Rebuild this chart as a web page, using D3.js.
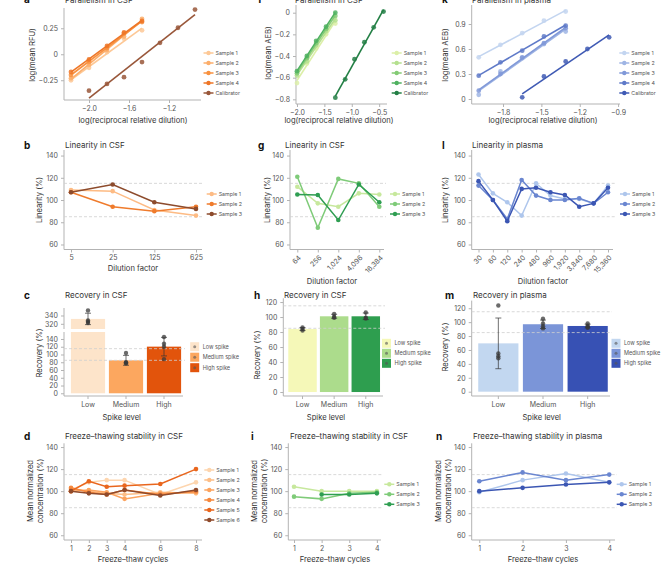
<!DOCTYPE html>
<html>
<head>
<meta charset="utf-8">
<script src="https://cdn.jsdelivr.net/npm/d3@7"></script>
<style>
  body { margin: 0; background: #fff; }
  svg { font-family: Inter, "Open Sans", sans-serif; }
</style>
</head>
<body>
<svg id="fig" width="665" height="578"></svg>
<script>
// ---------- data ----------
// a: parallelism in CSF (RFU)
const aSampleX = [-2.18, -2.0, -1.82, -1.65, -1.47];
const aSamples = [
  [-0.25, -0.13, 0.02, 0.15, 0.23],
  [-0.23, -0.10, 0.04, 0.17, 0.34],
  [-0.20, -0.07, 0.06, 0.20, 0.31],
  [-0.17, -0.05, 0.08, 0.21, 0.32]
];
const aCalX = [-2.0, -1.82, -1.65, -1.47, -1.29, -1.11, -0.94];
const aCal = [-0.35, -0.285, -0.22, -0.075, 0.11, 0.255, 0.43];

// f: parallelism in CSF (AEB)
const fSampleX = [-2.0, -1.82, -1.65, -1.47, -1.3];
const fSamples = [
  [-0.65, -0.47, -0.33, -0.20, -0.10],
  [-0.58, -0.45, -0.30, -0.17, -0.07],
  [-0.56, -0.42, -0.28, -0.15, -0.03],
  [-0.54, -0.40, -0.26, -0.13, 0.0]
];
const fCalX = [-1.3, -1.12, -0.95, -0.77, -0.6, -0.42];
const fCal = [-0.785, -0.615, -0.43, -0.273, -0.135, 0.01];

// k: parallelism in plasma (AEB)
const kSampleX = [-1.99, -1.82, -1.65, -1.48, -1.31];
const kSamples = [
  [0.50, 0.65, 0.79, 0.94, 1.05],
  [0.05, 0.33, 0.49, 0.66, 0.81],
  [0.10, 0.30, 0.50, 0.67, 0.85],
  [0.28, 0.44, 0.58, 0.75, 0.88]
];
const kCalX = [-1.65, -1.48, -1.31, -1.14, -0.97];
const kCal = [0.02, 0.27, 0.45, 0.60, 0.74];

// linearity (%)
const bDilutions = ["5", "25", "125", "625"];
const bLinearity = [[109, 108, 91, 86], [107, 94, 90, 94], [107, 114, 98, 92]];
const gDilutions = ["64", "256", "1,024", "4,096", "16,384"];
const gLinearity = [[112, 97, 94, 106, 105], [121, 75, 119, 115, 94], [105, 104.5, 82, 114, 98]];
const lDilutions = ["30", "60", "120", "240", "480", "960", "1,920", "3,840", "7,680", "15,360"];
const lLinearity = [
  [123, 106, 98, 86, 115, 104, 101, 101, 97, 113],
  [113, 100, 83, 118, 104, 100, 100, 101.5, 97, 107],
  [117, 100, 81, 110, 111, 107, 104.5, 94, 97, 111]
];

// recovery (%), replicates per spike level
const spikeLevels = ["Low", "Medium", "High"];
const spikeNames = ["Low spike", "Medium spike", "High spike"];
const cRecovery = [[352, 322, 325, 328], [104, 79, 77, 80], [145, 128, 120, 88]];
const hRecovery = [[86, 84, 82], [104, 100, 99], [106, 98, 99]];
const mRecovery = [[124, 55, 51, 48], [105, 98, 94, 91], [98, 95, 93, 92]];

// freeze-thaw stability (%)
const dCycles = [1, 2, 3, 4, 6, 8];
const dStability = [
  [101, 108, 110, 110, 97, 108],
  [102, 100, 98, 97, 99, 98],
  [100, 101, 99, 93, 98, 99],
  [103, 99, 97, 101, 97, 100],
  [100, 109, 104, 105, 106.5, 120],
  [100, 98, 97, 101, 96, 101]
];
const iCycles = [1, 2, 3, 4];
const iStability = [[104, 100, 100, 100], [95, 93, 98, 99], [null, 97, 97, 98]];
const nCycles = [1, 2, 3, 4];
const nStability = [[99, 110, 116, 108], [109, 117, 110, 115], [100, 103, 106, 108]];

const sampleNames = ["Sample 1", "Sample 2", "Sample 3", "Sample 4", "Sample 5", "Sample 6"];

// ---------- colours ----------
const orange4 = ["#fdc896", "#fcae6b", "#f8913f", "#ee7627"], orangeCal = "#99573a";
const green4 = ["#dcefa8", "#b5e08f", "#84cb75", "#4fb160"], greenCal = "#237f45";
const blue4 = ["#c3d5f0", "#9fb5e4", "#8199d8", "#5f7ac8"], blueCal = "#3f5ab4";
const orange3 = ["#fdbb84", "#ef7b2c", "#8d4b2c"];
const green3 = ["#c7e89d", "#7fcb79", "#2f9e52"];
const blue3 = ["#aec6ec", "#6a86d0", "#3b56b3"];
const orangeBars = ["#fde4ca", "#fca75f", "#e2540c"];
const greenBars = ["#f5f8b8", "#acdc8c", "#2e9e4f"];
const blueBars = ["#c2d7f0", "#7b95d8", "#3751b4"];
const orange6 = ["#fdd5ae", "#fdbe87", "#fca35e", "#f6883d", "#e9661d", "#8f4a2b"];

const AX = "#b3b3b3", TK = "#555", TT = "#333", REF = "#cfcfcf";

const svg = d3.select("#fig");

// ---------- helpers ----------
function spines(g, b) {
  g.append("line").attr("x1", b.x0).attr("x2", b.x0).attr("y1", b.y0).attr("y2", b.y1).attr("stroke", AX);
  g.append("line").attr("x1", b.x0).attr("x2", b.x1).attr("y1", b.y1).attr("y2", b.y1).attr("stroke", AX);
}

function styleAxis(ax) {
  ax.attr("font-family", null).attr("font-size", null);
  ax.select(".domain").remove();
  ax.selectAll(".tick line").attr("stroke", AX);
  ax.selectAll(".tick text").attr("fill", TK).style("font-size", "7px");
}

function yAxis(g, b, y, ticks, fmt) {
  const ax = g.append("g").attr("transform", `translate(${b.x0},0)`)
    .call(d3.axisLeft(y).tickValues(ticks).tickSize(3).tickPadding(3).tickFormat(fmt || d3.format("d")));
  styleAxis(ax);
}

function xAxis(g, b, x, ticks, fmt, rotate) {
  const axis = d3.axisBottom(x).tickSize(3).tickPadding(3);
  if (ticks) axis.tickValues(ticks);
  if (fmt) axis.tickFormat(fmt);
  const ax = g.append("g").attr("transform", `translate(0,${b.y1})`).call(axis);
  styleAxis(ax);
  if (rotate) {
    ax.selectAll(".tick text")
      .attr("x", 0).attr("y", 0).attr("dy", "0.35em")
      .attr("text-anchor", "end")
      .attr("transform", "translate(2,7) rotate(-45)");
  }
}

function refLines(g, b, y, vals) {
  vals.forEach(v => {
    g.append("line").attr("x1", b.x0).attr("x2", b.x1 + 2)
      .attr("y1", y(v)).attr("y2", y(v))
      .attr("stroke", REF).attr("stroke-width", 0.8).attr("stroke-dasharray", "3,2");
  });
}

function texts(t) {
  // panel letter, title, axis titles
  svg.append("text").attr("x", t.letter[0]).attr("y", t.letter[1]).text(t.letter[2])
    .attr("font-weight", 700).attr("font-size", 10).attr("fill", "#111");
  svg.append("text").attr("x", t.title[0]).attr("y", t.title[1]).text(t.title[2])
    .attr("font-size", 8).attr("fill", TT);
  svg.append("text").attr("x", t.xlab[0]).attr("y", t.xlab[1]).text(t.xlab[2])
    .attr("font-size", 7.6).attr("fill", TT).attr("text-anchor", "middle");
  const lines = Array.isArray(t.ylab[2]) ? t.ylab[2] : [t.ylab[2]];
  lines.forEach((s, i) => {
    svg.append("text").attr("transform", `translate(${t.ylab[0] + i * 10},${t.ylab[1]}) rotate(-90)`)
      .attr("text-anchor", "middle").attr("dy", "0.35em")
      .attr("font-size", 7.6).attr("fill", TT).text(s);
  });
}

function lineLegend(x, y0, names, colors) {
  const g = svg.append("g");
  names.forEach((n, i) => {
    const y = y0 + i * 10;
    g.append("line").attr("x1", x - 5).attr("x2", x + 5).attr("y1", y).attr("y2", y)
      .attr("stroke", colors[i]).attr("stroke-width", 1.5);
    g.append("circle").attr("cx", x).attr("cy", y).attr("r", 2.2).attr("fill", colors[i]);
    g.append("text").attr("x", x + 7).attr("y", y).attr("dy", "0.35em")
      .attr("font-size", 5.3).attr("fill", TK).text(n);
  });
}

function barLegend(x, y0, step, names, colors) {
  const g = svg.append("g");
  names.forEach((n, i) => {
    const y = y0 + i * step;
    g.append("rect").attr("x", x - 4.5).attr("y", y - 4.5).attr("width", 9).attr("height", 9)
      .attr("fill", colors[i]);
    g.append("circle").attr("cx", x).attr("cy", y).attr("r", 1.5).attr("fill", "#555").attr("opacity", 0.6);
    g.append("text").attr("x", x + 8).attr("y", y).attr("dy", "0.35em")
      .attr("font-size", 5.5).attr("fill", TK).text(n);
  });
}

function fit(xs, ys) {
  const mx = d3.mean(xs), my = d3.mean(ys);
  const slope = d3.sum(xs, (v, i) => (v - mx) * (ys[i] - my)) / d3.sum(xs, v => (v - mx) ** 2);
  return v => my + slope * (v - mx);
}

const fmtZero = f => d => d === 0 ? "0" : d3.format(f)(d);

// ---------- row 1: parallelism ----------
function parallelPanel(p) {
  const b = p.box;
  const x = d3.scaleLinear().domain(p.xDom).range([b.x0, b.x1]);
  const y = d3.scaleLinear().domain(p.yDom).range([b.y1, b.y0]);
  const g = svg.append("g");
  spines(g, b);
  yAxis(g, b, y, p.yTicks, p.yFmt);
  xAxis(g, b, x, p.xTicks, d3.format(".1f"));
  const series = p.samples.map((s, i) => ({ xs: p.sX, ys: s, c: p.colors[i] }))
    .concat([{ xs: p.cX, ys: p.cal, c: p.calColor }]);
  series.forEach(s => {
    g.selectAll(null).data(s.ys).join("circle")
      .attr("cx", (d, i) => x(s.xs[i])).attr("cy", d => y(d))
      .attr("r", 2.4).attr("fill", s.c).attr("opacity", 0.85);
    const f = fit(s.xs, s.ys);
    const ends = d3.extent(s.xs);
    g.append("line").attr("x1", x(ends[0])).attr("x2", x(ends[1]))
      .attr("y1", y(f(ends[0]))).attr("y2", y(f(ends[1])))
      .attr("stroke", s.c).attr("stroke-width", 1.6);
  });
  lineLegend(p.legend[0], p.legend[1], sampleNames.slice(0, 4).concat(["Calibrator"]),
    p.colors.concat([p.calColor]));
  texts(p.text);
}

parallelPanel({
  box: { x0: 64, x1: 201, y0: 8, y1: 100 },
  xDom: [-2.25, -0.88], yDom: [-0.44, 0.445],
  xTicks: [-2.0, -1.6, -1.2], yTicks: [-0.25, 0, 0.25], yFmt: fmtZero(".2f"),
  sX: aSampleX, samples: aSamples, cX: aCalX, cal: aCal,
  colors: orange4, calColor: orangeCal, legend: [208.5, 53],
  text: { letter: [24, 3, "a"], title: [65, 3, "Parallelism in CSF"],
          xlab: [133, 123, "log(reciprocal relative dilution)"], ylab: [32, 55, "log(mean RFU)"] }
});

parallelPanel({
  box: { x0: 296, x1: 387, y0: 5, y1: 104 },
  xDom: [-2.018, -0.357], yDom: [-0.843, 0.071],
  xTicks: [-2.0, -1.5, -1.0, -0.5], yTicks: [-0.8, -0.6, -0.4, -0.2, 0], yFmt: fmtZero(".1f"),
  sX: fSampleX, samples: fSamples, cX: fCalX, cal: fCal,
  colors: green4, calColor: greenCal, legend: [396.7, 53],
  text: { letter: [258, 3, "f"], title: [295, 3, "Parallelism in CSF"],
          xlab: [339, 123, "log(reciprocal relative dilution)"], ylab: [268, 53, "log(mean AEB)"] }
});

parallelPanel({
  box: { x0: 471.7, x1: 620, y0: 5, y1: 104 },
  xDom: [-2.045, -0.885], yDom: [-0.06, 1.128],
  xTicks: [-1.8, -1.5, -1.2, -0.9], yTicks: [0, 0.3, 0.6, 0.9], yFmt: fmtZero(".1f"),
  sX: kSampleX, samples: kSamples, cX: kCalX, cal: kCal,
  colors: blue4, calColor: blueCal, legend: [624.3, 53],
  text: { letter: [442, 3, "k"], title: [472, 3, "Parallelism in plasma"],
          xlab: [543, 123, "log(reciprocal relative dilution)"], ylab: [445, 55, "log(mean AEB)"] }
});

// ---------- row 2: linearity ----------
function linePanel(p) {
  const b = p.box;
  const x = p.x;
  const y = d3.scaleLinear().domain(p.yDom).range([b.y1, b.y0]);
  const g = svg.append("g");
  spines(g, b);
  refLines(g, b, y, [85, 115]);
  yAxis(g, b, y, [60, 80, 100, 120, 140]);
  xAxis(g, b, x, p.xTicks, p.xFmt, p.rotate);
  const line = d3.line().defined(d => d[1] != null).x(d => x(d[0])).y(d => y(d[1]));
  p.series.forEach((s, i) => {
    const pts = s.map((v, j) => [p.cats[j], v]);
    g.append("path").attr("d", line(pts)).attr("fill", "none")
      .attr("stroke", p.colors[i]).attr("stroke-width", 1.5);
    g.selectAll(null).data(pts.filter(d => d[1] != null)).join("circle")
      .attr("cx", d => x(d[0])).attr("cy", d => y(d[1]))
      .attr("r", 2.3).attr("fill", p.colors[i]);
  });
  lineLegend(p.legend[0], p.legend[1], sampleNames.slice(0, p.series.length), p.colors);
  texts(p.text);
}

const row2Y = [55.5, 145];

linePanel({
  box: { x0: 64, x1: 202, y0: 150, y1: 249.5 }, yDom: row2Y,
  x: d3.scalePoint().domain(bDilutions).range([71, 196]),
  cats: bDilutions, series: bLinearity, colors: orange3, legend: [211.7, 194],
  text: { letter: [24, 149, "b"], title: [65, 148, "Linearity in CSF"],
          xlab: [133, 271, "Dilution factor"], ylab: [39, 200, "Linearity (%)"] }
});

linePanel({
  box: { x0: 290, x1: 384, y0: 150, y1: 249.5 }, yDom: row2Y, rotate: true,
  x: d3.scalePoint().domain(gDilutions).range([297.3, 379.3]),
  cats: gDilutions, series: gLinearity, colors: green3, legend: [395, 194],
  text: { letter: [258, 149, "g"], title: [285, 148, "Linearity in CSF"],
          xlab: [332, 284, "Dilution factor"], ylab: [267.7, 200, "Linearity (%)"] }
});

linePanel({
  box: { x0: 471.7, x1: 613, y0: 150, y1: 249.5 }, yDom: row2Y, rotate: true,
  x: d3.scalePoint().domain(lDilutions).range([478.5, 608]),
  cats: lDilutions, series: lLinearity, colors: blue3, legend: [625, 194],
  text: { letter: [442, 149, "l"], title: [472, 148, "Linearity in plasma"],
          xlab: [543, 284, "Dilution factor"], ylab: [445, 200, "Linearity (%)"] }
});

// ---------- row 3: recovery ----------
function recoveryPanel(p) {
  const b = p.box;
  const x = d3.scaleBand().domain(spikeLevels).range(p.band).paddingInner(0.1).paddingOuter(0.05);
  const g = svg.append("g");
  // scale per y segment; a single segment unless the axis is broken
  const segs = p.segs.map(s => ({ ...s, y: d3.scaleLinear().domain(s.dom).range([s.r1, s.r0]) }));
  const segFor = v => segs.find(s => v >= s.dom[0] && v <= s.dom[1]) || segs[0];
  const stats = p.data.map(arr => ({ mean: d3.mean(arr), sd: d3.deviation(arr) }));

  segs.forEach(s => {
    g.append("line").attr("x1", b.x0).attr("x2", b.x0).attr("y1", s.r0).attr("y2", s.r1).attr("stroke", AX);
    const ax = g.append("g").attr("transform", `translate(${b.x0},0)`)
      .call(d3.axisLeft(s.y).tickValues(s.ticks).tickSize(3).tickPadding(3).tickFormat(d3.format("d")));
    styleAxis(ax);
    // bars clipped to this segment
    stats.forEach((st, i) => {
      const lo = Math.max(0, s.dom[0]), hi = Math.min(st.mean, s.dom[1]);
      if (hi <= lo) return;
      g.append("rect").attr("x", x(spikeLevels[i])).attr("width", x.bandwidth())
        .attr("y", s.y(hi)).attr("height", s.y(lo) - s.y(hi)).attr("fill", p.colors[i]);
    });
  });
  g.append("line").attr("x1", b.x0).attr("x2", b.x1).attr("y1", b.y1).attr("y2", b.y1).attr("stroke", AX);
  const low = segs[0];
  refLines(g, { x0: b.x0, x1: b.x1 }, low.y, [85, 115]);

  // error bars (mean ± s.d.) and replicate points
  stats.forEach((st, i) => {
    const cx = x(spikeLevels[i]) + x.bandwidth() / 2;
    const y1 = segFor(st.mean - st.sd).y(st.mean - st.sd), y2 = segFor(st.mean + st.sd).y(st.mean + st.sd);
    g.append("line").attr("x1", cx).attr("x2", cx).attr("y1", y1).attr("y2", y2)
      .attr("stroke", "#333").attr("stroke-width", 0.7);
    [y1, y2].forEach(yy => g.append("line").attr("x1", cx - 3).attr("x2", cx + 3)
      .attr("y1", yy).attr("y2", yy).attr("stroke", "#333").attr("stroke-width", 0.7));
    g.selectAll(null).data(p.data[i]).join("circle")
      .attr("cx", cx).attr("cy", d => segFor(d).y(d))
      .attr("r", 2.2).attr("fill", "#3a3a3a").attr("opacity", 0.75);
  });

  const xa = g.append("g").attr("transform", `translate(0,${b.y1})`)
    .call(d3.axisBottom(x).tickSize(3).tickPadding(3));
  styleAxis(xa);
  barLegend(p.legend[0], p.legend[1], p.legend[2], spikeNames, p.colors);
  texts(p.text);
}

recoveryPanel({
  box: { x0: 64, x1: 183, y1: 396 }, band: [69, 183],
  segs: [
    { dom: [-7, 158], r0: 332, r1: 396, ticks: [0, 20, 40, 60, 80, 100, 120, 140] },
    { dom: [307.5, 358], r0: 308, r1: 329, ticks: [320, 340] }
  ],
  data: cRecovery, colors: orangeBars, legend: [194.7, 346.7, 10.5],
  text: { letter: [24, 299, "c"], title: [65, 298, "Recovery in CSF"],
          xlab: [121.7, 420, "Spike level"], ylab: [39, 353, "Recovery (%)"] }
});

recoveryPanel({
  box: { x0: 283.3, x1: 383, y1: 396 }, band: [286.7, 381.6],
  segs: [{ dom: [-5.3, 125], r0: 298.3, r1: 396, ticks: [0, 20, 40, 60, 80, 100, 120] }],
  data: hRecovery, colors: greenBars, legend: [386.5, 343.3, 10],
  text: { letter: [254, 299, "h"], title: [284, 298, "Recovery in CSF"],
          xlab: [326, 420, "Spike level"], ylab: [257.3, 355, "Recovery (%)"] }
});

recoveryPanel({
  box: { x0: 471.7, x1: 610, y1: 396 }, band: [476, 610],
  segs: [{ dom: [-6.2, 131], r0: 300.6, r1: 396, ticks: [0, 20, 40, 60, 80, 100, 120] }],
  data: mRecovery, colors: blueBars, legend: [616, 343.3, 10],
  text: { letter: [445, 299, "m"], title: [473, 298, "Recovery in plasma"],
          xlab: [541.7, 420, "Spike level"], ylab: [445, 347, "Recovery (%)"] }
});

// ---------- row 4: freeze-thaw stability ----------
const row4Y = [55.7, 143.4];
const stabLab = ["Mean normalized", "concentration (%)"];

linePanel({
  box: { x0: 64, x1: 202, y0: 443.3, y1: 540 }, yDom: row4Y,
  x: d3.scaleLinear().domain([0.608, 8.336]).range([64, 202]), xTicks: dCycles, xFmt: d3.format("d"),
  cats: dCycles, series: dStability, colors: orange6, legend: [209.3, 470],
  text: { letter: [24, 440, "d"], title: [65, 439, "Freeze\u2013thawing stability in CSF"],
          xlab: [133, 562, "Freeze\u2013thaw cycles"], ylab: [30.7, 491, stabLab] }
});

linePanel({
  box: { x0: 288.3, x1: 381, y0: 443.3, y1: 540 }, yDom: row4Y,
  x: d3.scaleLinear().domain([0.793, 4.15]).range([288.3, 381]), xTicks: iCycles, xFmt: d3.format("d"),
  cats: iCycles, series: iStability, colors: green3, legend: [389.3, 484.3],
  text: { letter: [251, 440, "i"], title: [290, 439, "Freeze\u2013thawing stability in CSF"],
          xlab: [335, 562, "Freeze\u2013thaw cycles"], ylab: [254, 491, stabLab] }
});

linePanel({
  box: { x0: 471.7, x1: 615, y0: 443.3, y1: 540 }, yDom: row4Y,
  x: d3.scaleLinear().domain([0.825, 4.133]).range([471.7, 615]), xTicks: nCycles, xFmt: d3.format("d"),
  cats: nCycles, series: nStability, colors: blue3, legend: [621.7, 484.3],
  text: { letter: [436, 440, "n"], title: [473, 439, "Freeze\u2013thawing stability in plasma"],
          xlab: [543, 562, "Freeze\u2013thaw cycles"], ylab: [438, 491, stabLab] }
});
</script>
</body>
</html>
